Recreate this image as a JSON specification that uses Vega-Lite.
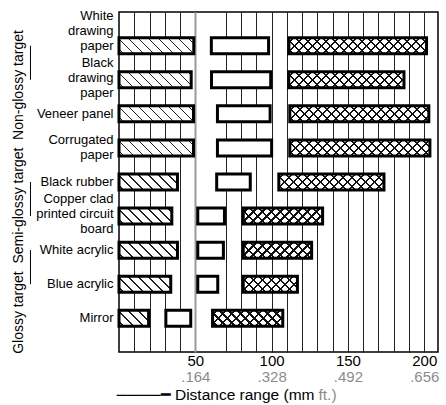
{
  "$schema": "https://vega.github.io/schema/vega-lite/v6.json",
  "width": 319,
  "height": 340,
  "autosize": {"type": "none"},
  "padding": {"left": 119, "top": 12, "right": 8, "bottom": 53},
  "background": "#ffffff",
  "config": {
    "font": "Liberation Sans",
    "view": {"stroke": "#000", "strokeWidth": 1.5},
    "axis": {"labelFont": "Liberation Sans", "titleFont": "Liberation Sans", "titleFontWeight": "normal", "ticks": false, "domain": false}
  },
  "params": [
    {"name": "hs", "expr": "[{offset:0,color:'#fff'},{offset:0.04,color:'#fff'},{offset:0.04,color:'#222'},{offset:0.054,color:'#222'},{offset:0.054,color:'#fff'},{offset:0.14,color:'#fff'},{offset:0.14,color:'#222'},{offset:0.154,color:'#222'},{offset:0.154,color:'#fff'},{offset:0.24,color:'#fff'},{offset:0.24,color:'#222'},{offset:0.254,color:'#222'},{offset:0.254,color:'#fff'},{offset:0.34,color:'#fff'},{offset:0.34,color:'#222'},{offset:0.354,color:'#222'},{offset:0.354,color:'#fff'},{offset:0.44,color:'#fff'},{offset:0.44,color:'#222'},{offset:0.454,color:'#222'},{offset:0.454,color:'#fff'},{offset:0.54,color:'#fff'},{offset:0.54,color:'#222'},{offset:0.554,color:'#222'},{offset:0.554,color:'#fff'},{offset:0.64,color:'#fff'},{offset:0.64,color:'#222'},{offset:0.654,color:'#222'},{offset:0.654,color:'#fff'},{offset:0.74,color:'#fff'},{offset:0.74,color:'#222'},{offset:0.754,color:'#222'},{offset:0.754,color:'#fff'},{offset:0.84,color:'#fff'},{offset:0.84,color:'#222'},{offset:0.854,color:'#222'},{offset:0.854,color:'#fff'},{offset:0.94,color:'#fff'},{offset:0.94,color:'#222'},{offset:0.954,color:'#222'},{offset:0.954,color:'#fff'},{offset:1,color:'#fff'}]"},
    {"name": "cw", "expr": "[{offset:0,color:'#fff'},{offset:0.02,color:'#fff'},{offset:0.02,color:'#111'},{offset:0.032,color:'#111'},{offset:0.032,color:'#fff'},{offset:0.07,color:'#fff'},{offset:0.07,color:'#111'},{offset:0.082,color:'#111'},{offset:0.082,color:'#fff'},{offset:0.12,color:'#fff'},{offset:0.12,color:'#111'},{offset:0.132,color:'#111'},{offset:0.132,color:'#fff'},{offset:0.17,color:'#fff'},{offset:0.17,color:'#111'},{offset:0.182,color:'#111'},{offset:0.182,color:'#fff'},{offset:0.22,color:'#fff'},{offset:0.22,color:'#111'},{offset:0.232,color:'#111'},{offset:0.232,color:'#fff'},{offset:0.27,color:'#fff'},{offset:0.27,color:'#111'},{offset:0.282,color:'#111'},{offset:0.282,color:'#fff'},{offset:0.32,color:'#fff'},{offset:0.32,color:'#111'},{offset:0.332,color:'#111'},{offset:0.332,color:'#fff'},{offset:0.37,color:'#fff'},{offset:0.37,color:'#111'},{offset:0.382,color:'#111'},{offset:0.382,color:'#fff'},{offset:0.42,color:'#fff'},{offset:0.42,color:'#111'},{offset:0.432,color:'#111'},{offset:0.432,color:'#fff'},{offset:0.47,color:'#fff'},{offset:0.47,color:'#111'},{offset:0.482,color:'#111'},{offset:0.482,color:'#fff'},{offset:0.52,color:'#fff'},{offset:0.52,color:'#111'},{offset:0.532,color:'#111'},{offset:0.532,color:'#fff'},{offset:0.57,color:'#fff'},{offset:0.57,color:'#111'},{offset:0.582,color:'#111'},{offset:0.582,color:'#fff'},{offset:0.62,color:'#fff'},{offset:0.62,color:'#111'},{offset:0.632,color:'#111'},{offset:0.632,color:'#fff'},{offset:0.67,color:'#fff'},{offset:0.67,color:'#111'},{offset:0.682,color:'#111'},{offset:0.682,color:'#fff'},{offset:0.72,color:'#fff'},{offset:0.72,color:'#111'},{offset:0.732,color:'#111'},{offset:0.732,color:'#fff'},{offset:0.77,color:'#fff'},{offset:0.77,color:'#111'},{offset:0.782,color:'#111'},{offset:0.782,color:'#fff'},{offset:0.82,color:'#fff'},{offset:0.82,color:'#111'},{offset:0.832,color:'#111'},{offset:0.832,color:'#fff'},{offset:0.87,color:'#fff'},{offset:0.87,color:'#111'},{offset:0.882,color:'#111'},{offset:0.882,color:'#fff'},{offset:0.92,color:'#fff'},{offset:0.92,color:'#111'},{offset:0.932,color:'#111'},{offset:0.932,color:'#fff'},{offset:0.97,color:'#fff'},{offset:0.97,color:'#111'},{offset:0.982,color:'#111'},{offset:0.982,color:'#fff'},{offset:1,color:'#fff'}]"},
    {"name": "ct", "expr": "[{offset:0,color:'rgba(0,0,0,0)'},{offset:0.02,color:'rgba(0,0,0,0)'},{offset:0.02,color:'#111'},{offset:0.032,color:'#111'},{offset:0.032,color:'rgba(0,0,0,0)'},{offset:0.07,color:'rgba(0,0,0,0)'},{offset:0.07,color:'#111'},{offset:0.082,color:'#111'},{offset:0.082,color:'rgba(0,0,0,0)'},{offset:0.12,color:'rgba(0,0,0,0)'},{offset:0.12,color:'#111'},{offset:0.132,color:'#111'},{offset:0.132,color:'rgba(0,0,0,0)'},{offset:0.17,color:'rgba(0,0,0,0)'},{offset:0.17,color:'#111'},{offset:0.182,color:'#111'},{offset:0.182,color:'rgba(0,0,0,0)'},{offset:0.22,color:'rgba(0,0,0,0)'},{offset:0.22,color:'#111'},{offset:0.232,color:'#111'},{offset:0.232,color:'rgba(0,0,0,0)'},{offset:0.27,color:'rgba(0,0,0,0)'},{offset:0.27,color:'#111'},{offset:0.282,color:'#111'},{offset:0.282,color:'rgba(0,0,0,0)'},{offset:0.32,color:'rgba(0,0,0,0)'},{offset:0.32,color:'#111'},{offset:0.332,color:'#111'},{offset:0.332,color:'rgba(0,0,0,0)'},{offset:0.37,color:'rgba(0,0,0,0)'},{offset:0.37,color:'#111'},{offset:0.382,color:'#111'},{offset:0.382,color:'rgba(0,0,0,0)'},{offset:0.42,color:'rgba(0,0,0,0)'},{offset:0.42,color:'#111'},{offset:0.432,color:'#111'},{offset:0.432,color:'rgba(0,0,0,0)'},{offset:0.47,color:'rgba(0,0,0,0)'},{offset:0.47,color:'#111'},{offset:0.482,color:'#111'},{offset:0.482,color:'rgba(0,0,0,0)'},{offset:0.52,color:'rgba(0,0,0,0)'},{offset:0.52,color:'#111'},{offset:0.532,color:'#111'},{offset:0.532,color:'rgba(0,0,0,0)'},{offset:0.57,color:'rgba(0,0,0,0)'},{offset:0.57,color:'#111'},{offset:0.582,color:'#111'},{offset:0.582,color:'rgba(0,0,0,0)'},{offset:0.62,color:'rgba(0,0,0,0)'},{offset:0.62,color:'#111'},{offset:0.632,color:'#111'},{offset:0.632,color:'rgba(0,0,0,0)'},{offset:0.67,color:'rgba(0,0,0,0)'},{offset:0.67,color:'#111'},{offset:0.682,color:'#111'},{offset:0.682,color:'rgba(0,0,0,0)'},{offset:0.72,color:'rgba(0,0,0,0)'},{offset:0.72,color:'#111'},{offset:0.732,color:'#111'},{offset:0.732,color:'rgba(0,0,0,0)'},{offset:0.77,color:'rgba(0,0,0,0)'},{offset:0.77,color:'#111'},{offset:0.782,color:'#111'},{offset:0.782,color:'rgba(0,0,0,0)'},{offset:0.82,color:'rgba(0,0,0,0)'},{offset:0.82,color:'#111'},{offset:0.832,color:'#111'},{offset:0.832,color:'rgba(0,0,0,0)'},{offset:0.87,color:'rgba(0,0,0,0)'},{offset:0.87,color:'#111'},{offset:0.882,color:'#111'},{offset:0.882,color:'rgba(0,0,0,0)'},{offset:0.92,color:'rgba(0,0,0,0)'},{offset:0.92,color:'#111'},{offset:0.932,color:'#111'},{offset:0.932,color:'rgba(0,0,0,0)'},{offset:0.97,color:'rgba(0,0,0,0)'},{offset:0.97,color:'#111'},{offset:0.982,color:'#111'},{offset:0.982,color:'rgba(0,0,0,0)'},{offset:1,color:'rgba(0,0,0,0)'}]"}
  ],
  "data": {
    "values": [
      {"material": "White drawing paper", "seg": "h", "s": 0, "e": 49},
      {"material": "White drawing paper", "seg": "d", "s": 60.5, "e": 98},
      {"material": "White drawing paper", "seg": "c", "s": 111.3, "e": 201.5},
      {"material": "Black drawing paper", "seg": "h", "s": 0, "e": 47.3},
      {"material": "Black drawing paper", "seg": "d", "s": 60.6, "e": 99.4},
      {"material": "Black drawing paper", "seg": "c", "s": 111.2, "e": 186.7},
      {"material": "Veneer panel", "seg": "h", "s": 0, "e": 48.8},
      {"material": "Veneer panel", "seg": "d", "s": 64.5, "e": 99},
      {"material": "Veneer panel", "seg": "c", "s": 111.9, "e": 203},
      {"material": "Corrugated paper", "seg": "h", "s": 0, "e": 48.8},
      {"material": "Corrugated paper", "seg": "d", "s": 64.5, "e": 100},
      {"material": "Corrugated paper", "seg": "c", "s": 111.9, "e": 203.7},
      {"material": "Black rubber", "seg": "h", "s": 0, "e": 38.3},
      {"material": "Black rubber", "seg": "d", "s": 64, "e": 86},
      {"material": "Black rubber", "seg": "c", "s": 104.7, "e": 173.6},
      {"material": "Copper clad printed circuit board", "seg": "h", "s": 0, "e": 34.6},
      {"material": "Copper clad printed circuit board", "seg": "d", "s": 51.6, "e": 69.1},
      {"material": "Copper clad printed circuit board", "seg": "c", "s": 81.4, "e": 133.4},
      {"material": "White acrylic", "seg": "h", "s": 0, "e": 38.3},
      {"material": "White acrylic", "seg": "d", "s": 51.6, "e": 68.4},
      {"material": "White acrylic", "seg": "c", "s": 81.4, "e": 126.2},
      {"material": "Blue acrylic", "seg": "h", "s": 0, "e": 33.9},
      {"material": "Blue acrylic", "seg": "d", "s": 51.6, "e": 64.7},
      {"material": "Blue acrylic", "seg": "c", "s": 81.4, "e": 116.9},
      {"material": "Mirror", "seg": "h", "s": 0, "e": 19.4},
      {"material": "Mirror", "seg": "d", "s": 30.7, "e": 47},
      {"material": "Mirror", "seg": "c", "s": 61.3, "e": 107.3}
    ]
  },
  "layer": [
    {
      "transform": [{"filter": "datum.seg === 'h'"}],
      "mark": {"type": "bar", "fill": {"expr": "{gradient:'linear',x1:0,y1:1,x2:100*(scale('x',datum.e)-scale('x',datum.s))/(pow(scale('x',datum.e)-scale('x',datum.s),2)+pow(bandwidth('y'),2)),y2:1-100*bandwidth('y')/(pow(scale('x',datum.e)-scale('x',datum.s),2)+pow(bandwidth('y'),2)),stops:hs}"}, "stroke": "#000", "strokeWidth": 3, "strokeJoin": "miter"},
      "encoding": {
        "y": {
          "field": "material", "type": "nominal",
          "scale": {"domain": ["White drawing paper", "Black drawing paper", "Veneer panel", "Corrugated paper", "Black rubber", "Copper clad printed circuit board", "White acrylic", "Blue acrylic", "Mirror"], "paddingInner": 0.53, "paddingOuter": 0.755},
          "axis": {
            "orient": "left",
            "title": "Glossy target\u00a0\u00a0Semi-glossy target\u00a0\u00a0Non-glossy target",
            "titleFontSize": 14, "titleColor": "#000", "titleX": -101, "titleY": 179.5, "titleAngle": 270, "titleAlign": "center", "titleBaseline": "middle",
            "labelFontSize": 13, "labelColor": "#000", "labelLineHeight": 15, "labelLimit": 200, "labelPadding": 6, "labelAlign": "right",
            "labelExpr": "datum.value==='White drawing paper'?['White\u00a0\u00a0\u00a0','drawing','paper\u00a0\u00a0\u00a0']:datum.value==='Black drawing paper'?['Black\u00a0\u00a0\u00a0\u00a0','drawing','paper\u00a0\u00a0\u00a0']:datum.value==='Corrugated paper'?['Corrugated','paper\u00a0\u00a0\u00a0\u00a0\u00a0\u00a0\u00a0\u00a0\u00a0']:datum.value==='Copper clad printed circuit board'?['Copper clad\u00a0\u00a0','printed circuit','board\u00a0\u00a0\u00a0\u00a0\u00a0\u00a0\u00a0\u00a0\u00a0\u00a0\u00a0\u00a0']:datum.label",
            "labelOffset": {"condition": [
              {"test": "datum.value==='White drawing paper'", "value": -30},
              {"test": "datum.value==='Black drawing paper'", "value": -17},
              {"test": "datum.value==='Corrugated paper'", "value": -8},
              {"test": "datum.value==='Copper clad printed circuit board'", "value": -17}
            ], "value": 0},
            "labelOverlap": false,
            "grid": false
          }
        },
        "x": {
          "field": "s", "type": "quantitative",
          "scale": {"domain": [0, 209], "nice": false, "zero": false},
          "axis": {
            "orient": "bottom",
            "values": [10, 20, 30, 40, 50, 70, 80, 90, 100, 110, 120, 130, 140, 150, 160, 170, 180, 190, 200],
            "labelExpr": "datum.value % 50 === 0 ? datum.label : ''",
            "labelFontSize": 15, "labelColor": "#000", "labelPadding": 1.5, "labelFlush": false, "labelOverlap": false,
            "grid": true,
            "gridColor": {"condition": {"test": "datum.value === 50", "value": "#9a9a9a"}, "value": "#222"},
            "gridWidth": {"condition": {"test": "datum.value === 50", "value": 2}, "value": 1},
            "gridOpacity": 1,
            "title": "────━ Distance range (mm",
            "titleFontSize": 15.5, "titleColor": "#000", "titleX": 195, "titleY": 47, "titleAlign": "right", "titleBaseline": "alphabetic"
          }
        },
        "x2": {"field": "e"}
      }
    },
    {
      "transform": [{"filter": "datum.seg === 'd'"}],
      "mark": {"type": "bar", "fill": "#ffffff", "stroke": "#000", "strokeWidth": 3, "strokeJoin": "miter"},
      "encoding": {
        "y": {"field": "material", "type": "nominal", "scale": {"domain": ["White drawing paper", "Black drawing paper", "Veneer panel", "Corrugated paper", "Black rubber", "Copper clad printed circuit board", "White acrylic", "Blue acrylic", "Mirror"], "paddingInner": 0.53, "paddingOuter": 0.755}},
        "x": {
          "field": "s", "type": "quantitative",
          "scale": {"domain": [0, 209], "nice": false, "zero": false},
          "axis": {
            "orient": "bottom",
            "values": [50, 100, 150, 200],
            "labelExpr": "datum.value===50?'.164':datum.value===100?'.328':datum.value===150?'.492':'.656'",
            "labelFontSize": 15, "labelColor": "#8c8c8c", "labelPadding": 17.5, "labelFlush": false, "labelOverlap": false,
            "grid": false,
            "title": "ft.)",
            "titleFontSize": 15.5, "titleColor": "#8c8c8c", "titleX": 199, "titleY": 47, "titleAlign": "left", "titleBaseline": "alphabetic"
          }
        },
        "x2": {"field": "e"}
      }
    },
    {
      "transform": [{"filter": "datum.seg === 'c'"}],
      "mark": {"type": "bar", "fill": {"expr": "{gradient:'linear',x1:0,y1:1,x2:180*(scale('x',datum.e)-scale('x',datum.s))/(pow(scale('x',datum.e)-scale('x',datum.s),2)+pow(bandwidth('y'),2)),y2:1-180*bandwidth('y')/(pow(scale('x',datum.e)-scale('x',datum.s),2)+pow(bandwidth('y'),2)),stops:cw}"}},
      "encoding": {
        "y": {"field": "material", "type": "nominal", "scale": {"domain": ["White drawing paper", "Black drawing paper", "Veneer panel", "Corrugated paper", "Black rubber", "Copper clad printed circuit board", "White acrylic", "Blue acrylic", "Mirror"], "paddingInner": 0.53, "paddingOuter": 0.755}},
        "x": {"field": "s", "type": "quantitative", "scale": {"domain": [0, 209], "nice": false, "zero": false}, "axis": null},
        "x2": {"field": "e"}
      }
    },
    {
      "transform": [{"filter": "datum.seg === 'c'"}],
      "mark": {"type": "bar", "fill": {"expr": "{gradient:'linear',x1:0,y1:0,x2:180*(scale('x',datum.e)-scale('x',datum.s))/(pow(scale('x',datum.e)-scale('x',datum.s),2)+pow(bandwidth('y'),2)),y2:180*bandwidth('y')/(pow(scale('x',datum.e)-scale('x',datum.s),2)+pow(bandwidth('y'),2)),stops:ct}"}, "stroke": "#000", "strokeWidth": 3, "strokeJoin": "miter"},
      "encoding": {
        "y": {"field": "material", "type": "nominal", "scale": {"domain": ["White drawing paper", "Black drawing paper", "Veneer panel", "Corrugated paper", "Black rubber", "Copper clad printed circuit board", "White acrylic", "Blue acrylic", "Mirror"], "paddingInner": 0.53, "paddingOuter": 0.755}},
        "x": {"field": "s", "type": "quantitative", "scale": {"domain": [0, 209], "nice": false, "zero": false}, "axis": null},
        "x2": {"field": "e"}
      }
    },
    {
      "data": {"values": [
        {"group": "Non-glossy target", "from": "White drawing paper", "to": "Black drawing paper"},
        {"group": "Semi-glossy target", "from": "Black rubber", "to": "Copper clad printed circuit board"},
        {"group": "Glossy target", "from": "White acrylic", "to": "Blue acrylic"}
      ]},
      "mark": {"type": "rule", "stroke": "#000", "strokeWidth": 1},
      "encoding": {
        "x": {"datum": -58, "type": "quantitative", "scale": {"domain": [0, 209], "nice": false, "zero": false}, "axis": null},
        "y": {"field": "from", "type": "nominal", "scale": {"domain": ["White drawing paper", "Black drawing paper", "Veneer panel", "Corrugated paper", "Black rubber", "Copper clad printed circuit board", "White acrylic", "Blue acrylic", "Mirror"], "paddingInner": 0.53, "paddingOuter": 0.755}},
        "y2": {"field": "to"}
      }
    }
  ],
  "resolve": {"axis": {"x": "independent"}}
}
